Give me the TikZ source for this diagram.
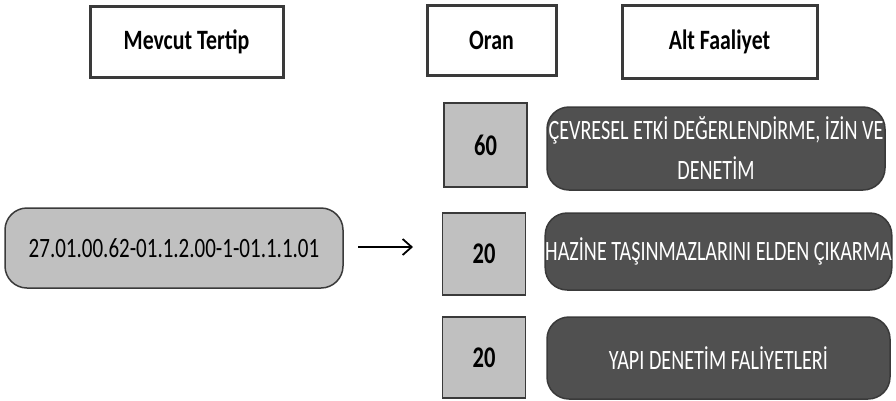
\documentclass[tikz,border=0pt]{standalone}
\usepackage{fontspec}
\setmainfont{Carlito}
\newfontfamily\headfont[FakeStretch=0.78]{Carlito}
\newfontfamily\condfont[FakeStretch=0.75]{Carlito}
\newfontfamily\narrowfont[FakeStretch=0.72]{Carlito}
\usetikzlibrary{arrows.meta}
\definecolor{boxline}{HTML}{3A3A3A}
\definecolor{lightbox}{HTML}{C0C0C0}
\definecolor{darkbox}{HTML}{505050}
\tikzset{
  header/.style={draw=boxline, line width=3pt, fill=white, inner sep=0pt,
    font=\headfont\bfseries\fontsize{28}{32}\selectfont},
  ratebox/.style={draw=boxline, line width=1.5pt, fill=lightbox, inner sep=0pt,
    minimum width=83pt, minimum height=82pt,
    font=\condfont\bfseries\fontsize{30}{34}\selectfont},
  activity/.style={draw=boxline, line width=1.5pt, fill=darkbox, text=white,
    rounded corners=22pt, inner sep=0pt, align=center,
    font=\narrowfont\fontsize{28}{40}\selectfont},
  codebox/.style={draw=boxline, line width=1.5pt, fill=lightbox,
    rounded corners=22pt, inner sep=0pt,
    font=\condfont\fontsize{28}{32}\selectfont}
}
\begin{document}
\begin{tikzpicture}[x=1pt,y=-1pt]
\useasboundingbox (0,0) rectangle (896,400);
% headers
    \node[header, minimum width=193pt, minimum height=71pt] (tertip) at (186.5,41.5) {Mevcut Tertip};
    \node[header, minimum width=129pt, minimum height=70pt] (oran) at (491.5,40) {Oran};
    \node[header, minimum width=195pt, minimum height=73pt] (altf) at (719.5,41.5) {Alt Faaliyet};

% rates
    \node[ratebox, minimum height=84pt] (r1) at (485.5,145) {60};
    \node[ratebox] (r2) at (484,254) {20};
    \node[ratebox, minimum height=81pt] (r3) at (484,357.5) {20};

% sub activities
    \node[activity, minimum width=338pt, minimum height=83pt] (a1) at (716,148.5)
      {ÇEVRESEL ETKİ DEĞERLENDİRME, İZİN VE\\DENETİM};
    \node[activity, minimum width=343pt, minimum height=77pt] (a2) at (718.5,251.5)
      {HAZİNE TAŞINMAZLARINI ELDEN ÇIKARMA};
    \node[activity, minimum width=343pt, minimum height=82pt] (a3) at (718.5,358)
      {YAPI DENETİM FALİYETLERİ};

% code
    \node[codebox, minimum width=338pt, minimum height=80pt] (code) at (174,248)
      {27.01.00.62-01.1.2.00-1-01.1.1.01};
    \coordinate (arrstart) at (358,247);
    \coordinate (arrend) at (413,247);
    \draw[line width=1.8pt, -{Straight Barb[length=9pt,width=16pt]}] (arrstart) -- (arrend);
\end{tikzpicture}
\end{document}
